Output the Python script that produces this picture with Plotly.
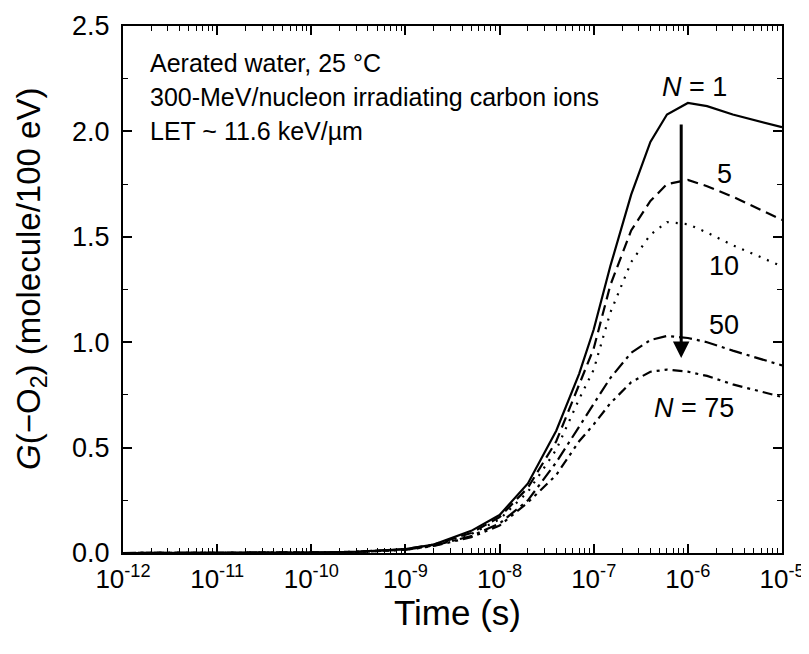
import math
import plotly.graph_objects as go

time_s = [1e-12, 1e-11, 1e-10, 3e-10, 1e-9, 2e-9, 5e-9, 1e-8, 2e-8, 4e-8, 7e-8,
          1e-7, 1.5e-7, 2.5e-7, 4e-7, 6e-7, 1e-6, 1.6e-6, 3e-6, 1e-5]

g_n1 = [0, 0, 0.002, 0.006, 0.018, 0.040, 0.105, 0.18, 0.33, 0.58, 0.85,
        1.06, 1.36, 1.70, 1.95, 2.08, 2.135, 2.12, 2.08, 2.02]
g_n5 = [0, 0, 0.002, 0.006, 0.018, 0.040, 0.095, 0.17, 0.31, 0.53, 0.80,
        0.97, 1.27, 1.53, 1.67, 1.75, 1.77, 1.74, 1.69, 1.58]
g_n10 = [0, 0, 0.002, 0.006, 0.017, 0.037, 0.090, 0.16, 0.29, 0.49, 0.73,
         0.87, 1.14, 1.38, 1.51, 1.57, 1.56, 1.52, 1.46, 1.36]
g_n50 = [0, 0, 0.002, 0.005, 0.016, 0.035, 0.080, 0.14, 0.25, 0.43, 0.60,
         0.71, 0.83, 0.95, 1.01, 1.03, 1.02, 1.00, 0.96, 0.89]
g_n75 = [0, 0, 0.002, 0.005, 0.015, 0.033, 0.075, 0.13, 0.24, 0.37, 0.53,
         0.61, 0.71, 0.81, 0.86, 0.87, 0.86, 0.84, 0.80, 0.74]

x_tick_vals = [1e-12, 1e-11, 1e-10, 1e-9, 1e-8, 1e-7, 1e-6, 1e-5]
x_tick_text = ["10<sup>-12</sup>", "10<sup>-11</sup>", "10<sup>-10</sup>", "10<sup>-9</sup>",
               "10<sup>-8</sup>", "10<sup>-7</sup>", "10<sup>-6</sup>", "10<sup>-5</sup>"]
y_tick_vals = [0.0, 0.5, 1.0, 1.5, 2.0, 2.5]

x_title = "Time (s)"
y_title = "<i>G</i>(\u2212O<sub>2</sub>) (molecule/100 eV)"

info_lines = ["Aerated water, 25 \u00b0C",
              "300-MeV/nucleon irradiating carbon ions",
              "LET ~ 11.6 keV/\u00b5m"]

curve_labels = ["<i>N</i> = 1", "5", "10", "50", "<i>N</i> = 75"]
curve_label_t = [5.1e-7, 1.95e-6, 1.6e-6, 1.6e-6, 4.2e-7]
curve_label_g = [2.21, 1.80, 1.36, 1.08, 0.69]

arrow_t = 8.5e-7
arrow_g_start = 2.04
arrow_g_end = 0.925

series = [
    ("N = 1", g_n1, "solid"),
    ("N = 5", g_n5, "11px,6px"),
    ("N = 10", g_n10, "2px,7px"),
    ("N = 50", g_n50, "13px,5px,3px,5px"),
    ("N = 75", g_n75, "10px,5px,3px,5px,3px,5px"),
]

fig = go.Figure()
for name, vals, dash in series:
    fig.add_trace(go.Scatter(x=time_s, y=vals, mode="lines", name=name,
                             line=dict(color="black", width=2.2, dash=dash)))

font_family = "Liberation Sans, Arial, sans-serif"

# page body has an 8px default margin, so the figure is sized to fit the window
fig.update_layout(
    width=801, height=646,
    margin=dict(l=115, r=27, t=18, b=101),
    paper_bgcolor="white", plot_bgcolor="white",
    showlegend=False,
    font=dict(family=font_family, color="black", size=27),
)

minor_x = [m * 10.0 ** e for e in range(-12, -5) for m in range(2, 10)]

fig.update_xaxes(
    type="log", range=[-12, -5], tickmode="array",
    tickvals=x_tick_vals, ticktext=x_tick_text,
    showgrid=False, zeroline=False, automargin=False,
    showline=True, linecolor="black", linewidth=2, mirror="ticks",
    ticks="inside", ticklen=9, tickwidth=1.5, tickcolor="black",
    minor=dict(ticks="inside", ticklen=5, tickwidth=1.2, tickcolor="black",
               tickmode="array", tickvals=minor_x, showgrid=False),
    tickfont=dict(size=26), ticklabelstandoff=2,
)
fig.update_yaxes(
    range=[0, 2.5], tickmode="array", tickvals=y_tick_vals, tickformat=".1f",
    showgrid=False, zeroline=False, automargin=False,
    showline=True, linecolor="black", linewidth=2, mirror="ticks",
    ticks="inside", ticklen=9, tickwidth=1.5, tickcolor="black",
    minor=dict(ticks="inside", ticklen=5, tickwidth=1.2, tickcolor="black",
               dtick=0.25, showgrid=False),
    tickfont=dict(size=27), ticklabelstandoff=6,
)

fig.add_annotation(xref="paper", yref="paper", x=0.5076, y=-0.113, text=x_title,
                   showarrow=False, xanchor="center", yanchor="middle", font=dict(size=35))
fig.add_annotation(xref="paper", yref="paper", x=-0.1396, y=0.52, text=y_title,
                   showarrow=False, xanchor="center", yanchor="middle", textangle=-90,
                   font=dict(size=33))

for i, t in enumerate(info_lines):
    fig.add_annotation(xref="paper", yref="paper", x=0.038, y=0.930 - i * 0.0645,
                       text=t, showarrow=False, xanchor="left", yanchor="middle",
                       font=dict(size=25))

for t, xv, yv in zip(curve_labels, curve_label_t, curve_label_g):
    fig.add_annotation(x=math.log10(xv), y=yv, xref="x", yref="y", text=t, showarrow=False,
                       xanchor="left", yanchor="middle", font=dict(size=27))

fig.add_annotation(x=math.log10(arrow_t), y=arrow_g_end, ax=math.log10(arrow_t), ay=arrow_g_start,
                   xref="x", yref="y", axref="x", ayref="y", showarrow=True, arrowhead=2,
                   arrowsize=1.1, arrowwidth=3, arrowcolor="black", text="")

fig.write_html("out.html")
